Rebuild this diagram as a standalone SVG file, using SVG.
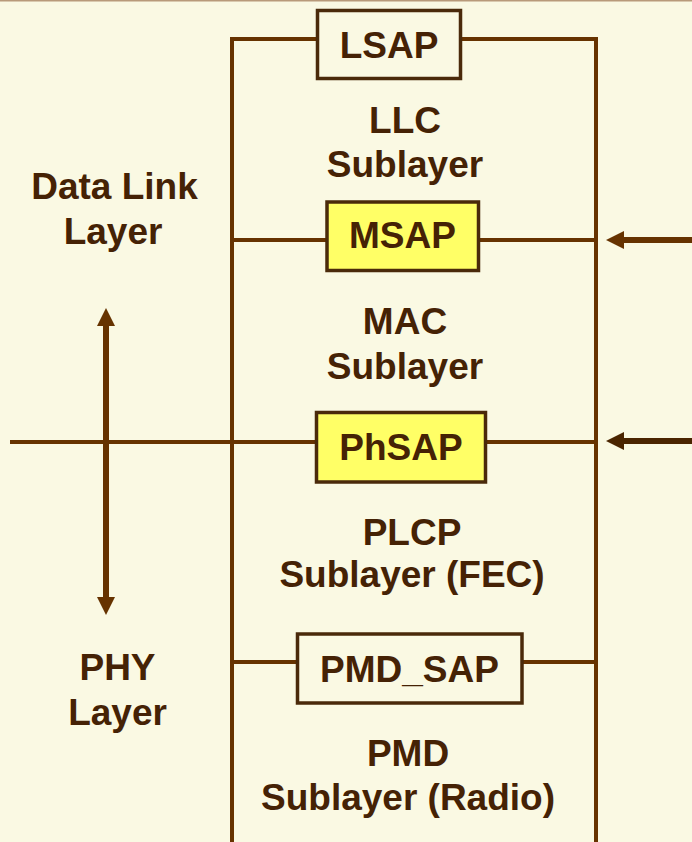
<svg xmlns="http://www.w3.org/2000/svg" width="692" height="842" viewBox="0 0 692 842">
<defs>
<style>
.t{font-family:"Liberation Sans",Arial,sans-serif;font-weight:bold;font-size:37px;fill:#452205;text-anchor:middle}
.ln{stroke:#663300;stroke-width:4;fill:none}
.box{stroke:#4A2A0A;stroke-width:3.5}
.sap{fill:#FAF9E3}
.hl{fill:#FFFF66}
</style>
<marker id="ah" viewBox="0 0 18 18" refX="0" refY="9" markerWidth="18" markerHeight="18" markerUnits="userSpaceOnUse" orient="auto-start-reverse">
<path d="M0,0 L18,9 L0,18 Z" fill="#663300"/>
</marker>
<marker id="ahd" viewBox="0 0 18 18" refX="0" refY="9" markerWidth="18" markerHeight="18" markerUnits="userSpaceOnUse" orient="auto-start-reverse">
<path d="M0,0 L18,9 L0,18 Z" fill="#4A2500"/>
</marker>
</defs>
<rect width="692" height="842" fill="#FAF9E3"/>
<line x1="0" y1="0.5" x2="692" y2="0.5" stroke="#B89A7A" stroke-width="2"/>
<g id="connectors">
<polyline class="ln" points="232,842 232,39 596,39 596,842"/>
<line class="ln" x1="232" y1="240" x2="596" y2="240"/>
<line class="ln" x1="10" y1="442" x2="596" y2="442"/>
<line class="ln" x1="232" y1="662" x2="596" y2="662"/>
<line stroke="#663300" stroke-width="6" x1="692" y1="240" x2="624" y2="240" marker-end="url(#ah)"/>
<line stroke="#4A2500" stroke-width="6" x1="692" y1="441" x2="624" y2="441" marker-end="url(#ahd)"/>
<line stroke="#663300" stroke-width="6" x1="106" y1="326" x2="106" y2="597" marker-start="url(#ah)" marker-end="url(#ah)"/>
</g>
<g id="lsap">
<rect class="box sap" x="317.5" y="10.5" width="143" height="68"/>
<text class="t" x="389" y="58">LSAP</text>
</g>
<g id="llc">
<text class="t" x="405" y="133">LLC</text>
<text class="t" x="405" y="177">Sublayer</text>
</g>
<g id="msap">
<rect class="box hl" x="327" y="202" width="151.5" height="68.5"/>
<text class="t" x="402.5" y="248">MSAP</text>
</g>
<g id="mac">
<text class="t" x="405" y="334">MAC</text>
<text class="t" x="405" y="379">Sublayer</text>
</g>
<g id="phsap">
<rect class="box hl" x="316.5" y="412.5" width="169" height="69.5"/>
<text class="t" x="401" y="460">PhSAP</text>
</g>
<g id="plcp">
<text class="t" x="412" y="545">PLCP</text>
<text class="t" x="412" y="587">Sublayer (FEC)</text>
</g>
<g id="pmdsap">
<rect class="box sap" x="297.5" y="634" width="224.5" height="69"/>
<text class="t" x="409.5" y="682">PMD_SAP</text>
</g>
<g id="pmd">
<text class="t" x="408" y="766">PMD</text>
<text class="t" x="408" y="810">Sublayer (Radio)</text>
</g>
<g id="datalink">
<text class="t" x="114.5" y="199">Data Link</text>
<text class="t" x="113" y="244">Layer</text>
</g>
<g id="phy">
<text class="t" x="117.5" y="680">PHY</text>
<text class="t" x="117.5" y="725">Layer</text>
</g>
</svg>
